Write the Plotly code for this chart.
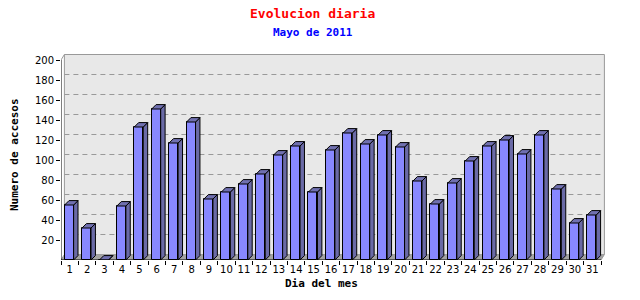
import plotly.graph_objects as go

# ---- data ----
days = list(range(1, 32))
accesos = [55, 32, 0, 54, 133, 151, 117, 138, 61, 68, 76, 86, 105, 114, 68,
           110, 127, 116, 125, 113, 79, 56, 77, 99, 114, 120, 106, 125, 71, 37, 45]
y_ticks = [20, 40, 60, 80, 100, 120, 140, 160, 180, 200]
title = "Evolucion diaria"
subtitle = "Mayo de 2011"
x_title = "Dia del mes"
y_title = "Numero de accesos"

# ---- layout geometry ----
W, H = 640, 300
L, R, T, B = 61, 33, 50, 40
PW, PH = W - L - R, H - T - B
XU = 540 / 31.0            # pixels per category unit
X0, X1 = 0.5, 0.5 + PW / XU
Y0, Y1 = 0, PH             # 1 px per unit
YMAX = 200

wx, wy = 3.4 / XU, 5.5      # back wall offset
bdx, bdy = 4.4 / XU, 4.4    # bar depth
bw = 9.0 / XU               # bar front width
boff = -0.293               # bar left edge relative to day

front_col = "#8888FF"
side_col = "#6A6AA6"
top_col = "#7070B0"
wall_col = "#E8E8E8"
floor_col = "#A4A4A4"
grid_col = "#999999"

def px(p):
    return (p - L) / PW

def py(p):
    return (H - B - p) / PH

fig = go.Figure()

# front faces
fig.add_trace(go.Bar(
    x=days, y=accesos, width=bw, offset=boff,
    marker=dict(color=front_col, line=dict(color="black", width=1)),
    hoverinfo="x+y", showlegend=False))

# side and top faces
sx, sy, tx, ty = [], [], [], []
for d, v in zip(days, accesos):
    xl = d + boff
    xr = xl + bw
    sx += [xr, xr + bdx, xr + bdx, xr, xr, None]
    sy += [0, bdy, v + bdy, v, 0, None]
    tx += [xl, xr, xr + bdx, xl + bdx, xl, None]
    ty += [v, v, v + bdy, v + bdy, v, None]

fig.add_trace(go.Scatter(x=sx, y=sy, mode="lines", fill="toself",
                         fillcolor=side_col, line=dict(color="black", width=1),
                         hoverinfo="skip", showlegend=False))
fig.add_trace(go.Scatter(x=tx, y=ty, mode="lines", fill="toself",
                         fillcolor=top_col, line=dict(color="black", width=1),
                         hoverinfo="skip", showlegend=False))

shapes = []
xa, xb = days[0] - 0.5, days[-1] + 0.5
# back wall
shapes.append(dict(type="rect", xref="x", yref="y", x0=xa + wx, x1=xb + wx,
                   y0=wy, y1=YMAX + wy, fillcolor=wall_col,
                   line=dict(color=grid_col, width=1), layer="below"))
# floor
shapes.append(dict(type="path", xref="x", yref="y",
                   path=f"M {xa},0 L {xb},0 L {xb + wx},{wy} L {xa + wx},{wy} Z",
                   fillcolor=floor_col, line=dict(color=floor_col, width=0),
                   layer="below"))
# dashed gridlines on the wall
for v in y_ticks[:-1]:
    shapes.append(dict(type="line", xref="x", yref="y", x0=xa + wx, x1=xb + wx,
                       y0=v + wy, y1=v + wy,
                       line=dict(color=grid_col, width=1, dash="5px,4px"),
                       layer="below"))
# connecting edges
shapes.append(dict(type="line", xref="x", yref="y", x0=xa, y0=YMAX,
                   x1=xa + wx, y1=YMAX + wy, line=dict(color=grid_col, width=1),
                   layer="below"))
shapes.append(dict(type="line", xref="x", yref="y", x0=xb, y0=0,
                   x1=xb + wx, y1=wy, line=dict(color=grid_col, width=1),
                   layer="below"))
shapes.append(dict(type="line", xref="x", yref="y", x0=xa, y0=0,
                   x1=xa + wx, y1=wy, line=dict(color=grid_col, width=1),
                   layer="below"))
# axis lines
shapes.append(dict(type="line", xref="x", yref="y", x0=xa, x1=xb, y0=0, y1=0,
                   line=dict(color="black", width=1)))
shapes.append(dict(type="line", xref="x", yref="y", x0=xa, x1=xa, y0=0, y1=YMAX,
                   line=dict(color="black", width=1)))

mono = "DejaVu Sans Mono"
annotations = [
    dict(text=f"<b>{title}</b>", x=px(312), y=py(14), xref="paper", yref="paper",
         showarrow=False, xanchor="center", yanchor="middle",
         font=dict(family=mono, size=13, color="#FF0000")),
    dict(text=f"<b>{subtitle}</b>", x=px(313), y=py(32), xref="paper", yref="paper",
         showarrow=False, xanchor="center", yanchor="middle",
         font=dict(family=mono, size=11, color="#0000FF")),
    dict(text=f"<b>{x_title}</b>", x=px(321), y=py(283), xref="paper", yref="paper",
         showarrow=False, xanchor="center", yanchor="middle",
         font=dict(family=mono, size=11, color="black")),
    dict(text=f"<b>{y_title}</b>", x=px(14), y=py(155), xref="paper", yref="paper",
         showarrow=False, xanchor="center", yanchor="middle", textangle=-90,
         font=dict(family=mono, size=11, color="black")),
]

fig.update_layout(
    width=W, height=H, margin=dict(l=L, r=R, t=T, b=B),
    paper_bgcolor="white", plot_bgcolor="white",
    shapes=shapes, annotations=annotations, showlegend=False, bargap=0,
    xaxis=dict(range=[X0, X1], tickmode="array", tickvals=days,
               ticktext=[str(d) for d in days], ticks="", showgrid=False,
               zeroline=False, showline=False, ticklabelstandoff=2,
               tickfont=dict(family="DejaVu Sans", size=10, color="black"),
               minor=dict(ticks="outside", ticklen=4, tickcolor="black",
                          tick0=0.5, dtick=1, showgrid=False)),
    yaxis=dict(range=[Y0, Y1], tickmode="array", tickvals=y_ticks,
               ticks="outside", ticklen=4, tickcolor="black", showgrid=False,
               zeroline=False, showline=False,
               tickfont=dict(family="DejaVu Sans", size=10, color="black")),
)

fig.write_html("out.html")
